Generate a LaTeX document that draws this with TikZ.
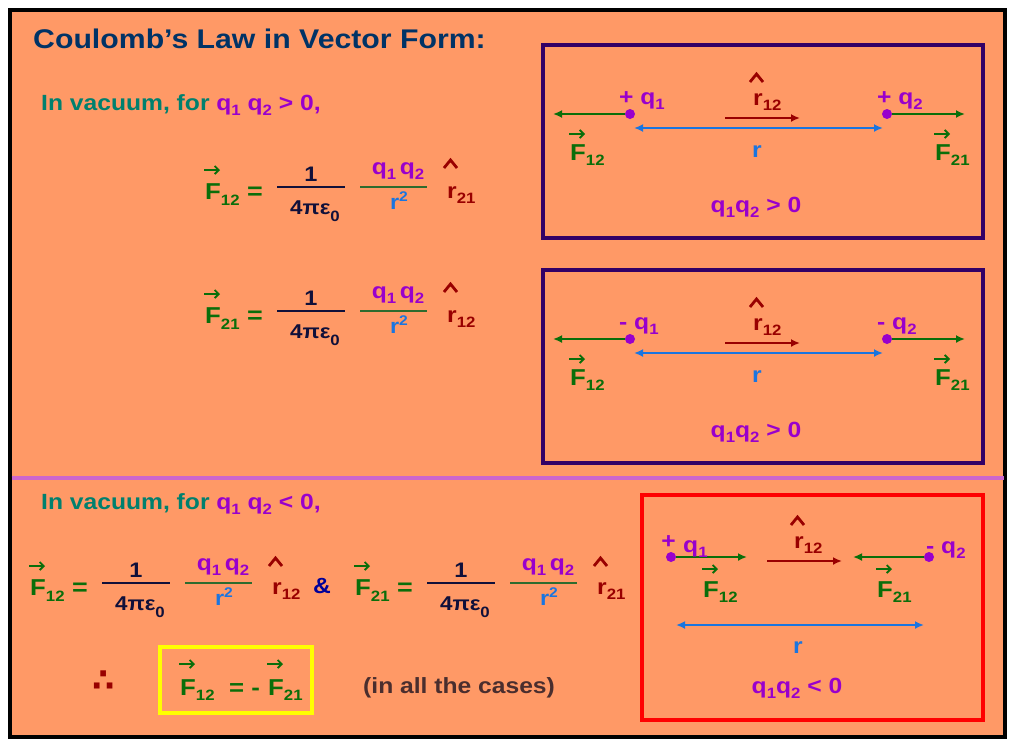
\documentclass[tikz,border=0pt]{standalone}
\usepackage{fontspec}
\setmainfont{Liberation Sans}[FakeStretch=1.12]
\newfontfamily\symfont{DejaVu Sans}
\usetikzlibrary{arrows.meta}
\definecolor{bgc}{HTML}{FF9966}
\definecolor{navyc}{HTML}{003366}
\definecolor{tealc}{HTML}{00806E}
\definecolor{qpur}{HTML}{9900CC}
\definecolor{fgreen}{HTML}{0A6E0A}
\definecolor{fline}{HTML}{2E6B2E}
\definecolor{dnavy}{HTML}{10103A}
\definecolor{rblue}{HTML}{1A75E0}
\definecolor{dred}{HTML}{990000}
\definecolor{boxpur}{HTML}{330066}
\definecolor{sepc}{HTML}{CC66CC}
\definecolor{andc}{HTML}{000099}
\definecolor{brn}{HTML}{4A2E2E}
\definecolor{yel}{HTML}{FFFF00}
\definecolor{redc}{HTML}{FF0000}
\newcommand\fs[1]{\fontsize{#1}{#1}\selectfont}
\newcommand\sbs[2][5]{\raisebox{-#1pt}{\fs{15}#2}}
\newcommand\sps[1]{\raisebox{8pt}{\fs{14}#1}}
\tikzset{
  txt/.style={inner sep=0pt, anchor=base west},
  ctxt/.style={inner sep=0pt, anchor=base},
  dot/.style={circle, fill=qpur, inner sep=0pt, minimum size=10pt},
  farr/.style={draw=fgreen, line width=2.6pt, -{Latex[length=9pt,width=8pt]}},
  barr/.style={draw=rblue, line width=2.6pt, {Latex[length=9pt,width=8pt]}-{Latex[length=9pt,width=8pt]}},
  rarr/.style={draw=dred, line width=2.6pt, -{Latex[length=9pt,width=8pt]}},
  varr/.style={draw=fgreen, line width=1.8pt, -{Straight Barb[length=4pt,width=8pt]}},
  hatst/.style={draw=dred, line width=2.8pt, line join=miter},
  pbox/.style={draw=boxpur, line width=4.5pt},
  sepline/.style={draw=sepc, line width=3.5pt},
}
% vector F: name, x, y, sub, lower, rise
\newcommand\vecF[6]{%
  \node[txt, text=fgreen, font=\bfseries\fs{23}] (#1) at (#2,#3) {F\sbs[#5]{#4}};
  \draw[varr] ([shift={(-1,-#6)}]#1.base west) -- ++(16,0);}
% r hat: name, x, y, sub, rise
\newcommand\hatr[5]{%
  \node[txt, text=dred] (#1) at (#2,#3) {r\sbs{#4}};
  \draw[hatst] ([shift={(-3,-#5)}]#1.base west) -- ++(6.5,-8) -- ++(6.5,8);}
% equation: prefix, dx, dy, Fsub, rsub, caret rise
\newcommand\eqn[6]{%
 \begin{scope}[shift={(#2,#3)}]
  \vecF{#1F}{205}{199}{#4}{6}{29}
  \node[txt, text=fgreen, font=\bfseries\fs{24}] (#1eq) at (247,199) {=};
  \node[ctxt, text=dnavy, font=\bfseries\fs{21}] (#1one) at (311,181) {1};
  \draw[draw=dnavy, line width=1.6pt] (277,187) -- (345,187);
  \node[ctxt, text=dnavy, font=\bfseries\fs{20}] (#1den) at (315,214) {4πε\sbs[7]{0}};
  \node[ctxt, text=qpur] (#1num) at (398,174) {q\sbs{1}\,q\sbs{2}};
  \draw[draw=fline, line width=1.6pt] (360,187) -- (427,187);
  \node[ctxt, text=rblue, font=\bfseries\fs{21}] (#1rsq) at (399,209) {r\sps{2}};
  \hatr{#1h}{447}{198}{#5}{#6}
 \end{scope}}
% charge box: prefix, dy, sign
\newcommand\chbox[3]{%
 \begin{scope}[shift={(0,#2)}]
  \draw[pbox] (543,45) rectangle (983,238);
  \node[dot] (#1q1) at (630,114) {};
  \node[dot] (#1q2) at (887,114) {};
  \coordinate (#1L) at (553,114);
  \coordinate (#1R) at (965,114);
  \draw[farr] (#1q1) -- (#1L);
  \draw[farr] (#1q2) -- (#1R);
  \node[txt, text=qpur] (#1l1) at (619,104) {#3 q\sbs{1}};
  \node[txt, text=qpur] (#1l2) at (877,104) {#3 q\sbs{2}};
  \hatr{#1h}{753}{105}{12}{23}
  \coordinate (#1ra) at (725,118);
  \coordinate (#1rb) at (800,118);
  \draw[rarr] (#1ra) -- (#1rb);
  \coordinate (#1ba) at (634,128);
  \coordinate (#1bb) at (883,128);
  \draw[barr] (#1ba) -- (#1bb);
  \node[ctxt, text=rblue] (#1rl) at (757,157) {r};
  \vecF{#1F1}{570}{160}{12}{5}{26}
  \vecF{#1F2}{935}{160}{21}{5}{26}
  \node[ctxt, text=qpur] (#1prod) at (756,212) {q\sbs{1}q\sbs{2} > 0};
 \end{scope}}
\begin{document}
\begin{tikzpicture}[x=1pt, y=-1pt, every node/.style={font=\bfseries\fs{22}}]
\useasboundingbox (0,0) rectangle (1009,740);
\fill[white] (0,0) rectangle (1009,740);
\draw[line width=3.5pt, fill=bgc] (10,10) rectangle (1005,737);
% title and headings
\node[txt, text=navyc, font=\bfseries\fs{27}] (title) at (33,48) {Coulomb’s Law in Vector Form:};
\node[txt, text=tealc] (vac1) at (41,110) {In vacuum, for \textcolor{qpur}{q\sbs{1} q\sbs{2} > 0,}};
\node[txt, text=tealc] (vac2) at (41,509) {In vacuum, for \textcolor{qpur}{q\sbs{1} q\sbs{2} < 0,}};
% separator
\coordinate (sepL) at (11.5,478);
\coordinate (sepR) at (1003.5,478);
\draw[sepline] (sepL) -- (sepR);
% equations
\eqn{a}{0}{0}{12}{21}{30}
\eqn{b}{0}{124}{21}{12}{30}
\eqn{c}{-175}{396}{12}{12}{28}
\eqn{d}{150}{396}{21}{21}{28}
\node[txt, text=andc] (amp) at (313,593) {\&};
% charge boxes
\chbox{p}{0}{+}
\chbox{m}{225}{-}
% attractive case box
\draw[draw=redc, line width=4pt] (642,495) rectangle (983,720);
\node[dot] (cq1) at (671,557) {};
\node[dot] (cq2) at (929,557) {};
\coordinate (cL) at (747,557);
\coordinate (cR) at (853,557);
\draw[farr] (cq1) -- (cL);
\draw[farr] (cq2) -- (cR);
\node[ctxt, text=qpur] (cplus) at (668.5,548) {+};
\node[txt, text=qpur] (cq1l) at (683,552) {q\sbs{1}};
\node[txt, text=qpur] (cq2l) at (926,553) {- q\sbs{2}};
\hatr{ch}{794}{548}{12}{23}
\coordinate (cra) at (767,561);
\coordinate (crb) at (842,561);
\draw[rarr] (cra) -- (crb);
\vecF{cF1}{703}{597}{12}{5}{28}
\vecF{cF2}{877}{597}{21}{5}{28}
\coordinate (cba) at (676,625);
\coordinate (cbb) at (924,625);
\draw[barr] (cba) -- (cbb);
\node[ctxt, text=rblue] (crl) at (798,653) {r};
\node[ctxt, text=qpur] (cprod) at (797,693) {q\sbs{1}q\sbs{2} < 0};
% conclusion
\node[ctxt, text=dred, font=\symfont\bfseries\fs{32}] (therefore) at (104,691) {∴};
\node[draw=yel, line width=4pt, minimum width=152pt, minimum height=66pt, inner sep=0pt] (ybox) at (236,680) {};
\vecF{yF1}{180}{695}{12}{5}{31}
\node[txt, text=fgreen, font=\bfseries\fs{23}] (yeq) at (229,695) {= -};
\vecF{yF2}{268}{695}{21}{5}{31}
\node[txt, text=brn] (cases) at (363,693) {(in all the cases)};
\end{tikzpicture}
\end{document}
